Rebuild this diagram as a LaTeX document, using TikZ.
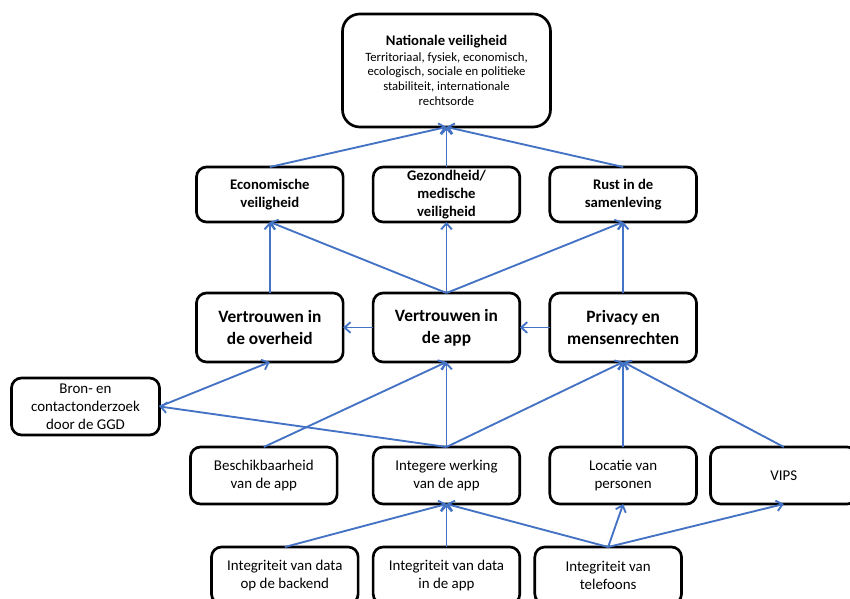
\documentclass[tikz,border=0pt]{standalone}
\usepackage{fontspec}
\setmainfont{Carlito}
\usepackage{tikz}
\usetikzlibrary{arrows.meta,positioning}
\definecolor{linkblue}{HTML}{4472C4}

\begin{document}
\begin{tikzpicture}[>={Straight Barb[length=4.5pt,width=8pt]}, node distance=22.5pt]
  \tikzset{blk/.style={draw, line width=2pt, rounded corners=7.5pt, minimum width=110pt, align=center, inner sep=1pt, outer sep=0pt},
    hi/.style={blk, minimum height=51.75pt, font=\fontsize{13}{16.2}\selectfont\bfseries},
    mid/.style={blk, minimum height=41.25pt, font=\fontsize{11}{13.3}\selectfont\bfseries},
    low/.style={blk, minimum height=42.75pt, font=\fontsize{11.2}{13.6}\selectfont},
    lnk/.style={->, draw=linkblue, line width=1.4pt}}
  \useasboundingbox (-334.875pt,245.625pt) rectangle (302.625pt,-203.625pt);
  % trust row
  \node[hi] (vapp) {Vertrouwen in\\ de app};
  \node[hi, left=of vapp] (voh) {Vertrouwen in\\ de overheid};
  \node[hi, right=of vapp] (priv) {Privacy en\\ mensenrechten};
  % security row
  \node[mid, above=53.25pt of vapp] (gez) {Gezondheid/\\ medische\\ veiligheid};
  \node[mid, left=of gez] (econ) {Economische\\ veiligheid};
  \node[mid, right=of gez] (rust) {Rust in de\\ samenleving};
  \node[blk, above=30pt of gez, minimum width=156pt, minimum height=84.75pt, rounded corners=13pt,
    font=\fontsize{9.5}{11}\selectfont] (nat)
    {\textbf{\fontsize{11}{13.5}\selectfont Nationale veiligheid}\\[0.5pt]
     Territoriaal, fysiek, economisch,\\ ecologisch, sociale en politieke\\ stabiliteit, internationale\\ rechtsorde};
  \node[low, below left=12pt and 27.75pt of voh, minimum width=111pt] (bron) {Bron- en\\ contactonderzoek\\ door de GGD};
  % app row
  \node[low, below=63.75pt of vapp] (integ) {Integere werking\\ van de app};
  \node[low, left=27pt of integ] (besch) {Beschikbaarheid\\ van de app};
  \node[low, right=of integ] (loc) {Locatie van\\ personen};
  \node[low, right=10.5pt of loc] (vips) {VIPS};
  % integrity row
  \node[low, below=32.25pt of integ] (iapp) {Integriteit van data\\ in de app};
  \node[low, left=11.25pt of iapp] (iback) {Integriteit van data\\ op de backend};
  \node[low, right=11.25pt of iapp] (itel) {Integriteit van\\ telefoons};
  % links
  \draw[lnk] (econ.north) -- (nat.south);
  \draw[lnk] (gez.north) -- (nat.south);
  \draw[lnk] (rust.north) -- (nat.south);
  \draw[lnk] (voh.north) -- (econ.south);
  \draw[lnk] (vapp.north) -- (econ.south);
  \draw[lnk] (vapp.north) -- (gez.south);
  \draw[lnk] (vapp.north) -- (rust.south);
  \draw[lnk] (priv.north) -- (rust.south);
  \draw[lnk] (vapp.west) -- (voh.east);
  \draw[lnk] (priv.west) -- (vapp.east);
  \draw[lnk] (bron.east) -- (voh.south);
  \draw[lnk] (integ.north) -- (bron.east);
  \draw[lnk] (besch.north) -- (vapp.south);
  \draw[lnk] (integ.north) -- (vapp.south);
  \draw[lnk] (integ.north) -- (priv.south);
  \draw[lnk] (loc.north) -- (priv.south);
  \draw[lnk] (vips.north) -- (priv.south);
  \draw[lnk] (iback.north) -- (integ.south);
  \draw[lnk] (iapp.north) -- (integ.south);
  \draw[lnk] (itel.north) -- (integ.south);
  \draw[lnk] (itel.north) -- (loc.south);
  \draw[lnk] (itel.north) -- (vips.south);
\end{tikzpicture}
\end{document}
